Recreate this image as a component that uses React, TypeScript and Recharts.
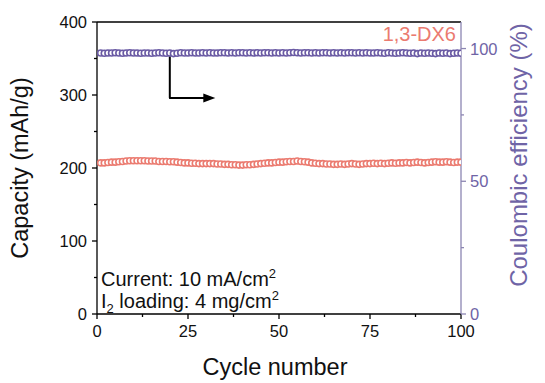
import React from 'react';
import { ComposedChart, Line, XAxis, YAxis, ReferenceLine } from 'recharts';

const cycles: number[] = Array.from({ length: 100 }, (_, i) => i + 1);

const capacity: number[] = [
  207, 207, 207.5, 208, 208, 208.5, 209, 209.5, 210, 210,
  210, 210, 210, 209.5, 209.5, 209.5, 209, 209, 209, 208.5,
  208.5, 208, 207.5, 207, 207, 206.5, 206.5, 206, 206, 206,
  206, 206, 205.5, 205.5, 205, 205, 204.5, 204.5, 204, 204,
  204.5, 204.5, 205, 205.5, 206, 206.5, 207, 207, 207.5, 208,
  208, 208.5, 209, 209, 209.5, 209, 208.5, 208, 207, 206.5,
  206, 206, 205.5, 205.5, 205, 205, 205.5, 205, 205.5, 206,
  205.5, 205, 205.5, 206, 206, 206.5, 206, 206.5, 206, 206.5,
  207, 206.5, 207, 207, 207.5, 207, 207.5, 208, 207.5, 207,
  207.5, 208, 208.5, 208, 208, 208.5, 208, 207.5, 208, 208,
];

const efficiency: number[] = [
  98.3, 98.2, 98.3, 98.3, 98.4, 98.3, 98.2, 98.3, 98.4, 98.3,
  98.3, 98.2, 98.3, 98.3, 98.2, 98.3, 98.4, 98.3, 98.2, 98.3,
  98.1, 98.2, 98.4, 98.3, 98.3, 98.4, 98.3, 98.3, 98.4, 98.3,
  98.4, 98.3, 98.3, 98.4, 98.4, 98.3, 98.4, 98.3, 98.4, 98.4,
  98.3, 98.4, 98.3, 98.4, 98.3, 98.4, 98.4, 98.3, 98.4, 98.3,
  98.4, 98.3, 98.4, 98.5, 98.4, 98.3, 98.4, 98.4, 98.3, 98.4,
  98.3, 98.4, 98.4, 98.3, 98.4, 98.3, 98.4, 98.3, 98.4, 98.4,
  98.3, 98.4, 98.3, 98.4, 98.3, 98.3, 98.4, 98.3, 98.2, 98.4,
  98.3, 98.2, 98.3, 98.4, 98.3, 98.2, 98.3, 98.1, 98.3, 98.2,
  98.3, 98.2, 98.1, 98.3, 98.2, 98.3, 98.1, 98.2, 98.3, 98.2,
];

const xTicks = [0, 12.5, 25, 37.5, 50, 62.5, 75, 87.5, 100];
const xLabels = [0, 25, 50, 75, 100];
const leftTicks = [0, 50, 100, 150, 200, 250, 300, 350, 400];
const leftLabels = [0, 100, 200, 300, 400];
const rightTicks = [0, 25, 50, 75, 100];
const rightLabels = [0, 50, 100];

const seriesName = '1,3-DX6';

const RED = '#EB7B70';
const PURPLE = '#6A5AA4';
const RAXIS = '#8C86B2';
const RTEXT = '#6F64A6';
const FONT = 'Arial, "Liberation Sans", Helvetica, sans-serif';

const data = cycles.map((c, i) => ({ cycle: c, cap: capacity[i], ce: efficiency[i] }));

const LeftTick = (props: any) => {
  const { x, y, payload } = props;
  const major = leftLabels.includes(payload.value);
  return (
    <g>
      <line x1={x} x2={x - (major ? 5 : 3)} y1={y} y2={y} stroke="#000" strokeWidth={1.3} />
      {major && (
        <text x={x - 10} y={y} textAnchor="end" dominantBaseline="central" fontSize={16.5} fill="#111" fontFamily={FONT}>
          {payload.value}
        </text>
      )}
    </g>
  );
};

const RightTick = (props: any) => {
  const { x, y, payload } = props;
  const major = rightLabels.includes(payload.value);
  return (
    <g>
      <line x1={x} x2={x + (major ? 5 : 3)} y1={y} y2={y} stroke={RAXIS} strokeWidth={1.3} />
      {major && (
        <text x={x + 9} y={y} textAnchor="start" dominantBaseline="central" fontSize={16.5} fill={RTEXT} fontFamily={FONT}>
          {payload.value}
        </text>
      )}
    </g>
  );
};

const BottomTick = (props: any) => {
  const { x, y, payload } = props;
  const major = xLabels.includes(payload.value);
  return (
    <g>
      <line x1={x} x2={x} y1={y} y2={y + (major ? 5 : 3)} stroke="#000" strokeWidth={1.3} />
      {major && (
        <text x={x} y={y + 23} textAnchor="middle" fontSize={16.5} fill="#111" fontFamily={FONT}>
          {payload.value}
        </text>
      )}
    </g>
  );
};

const ArrowHead = (props: any) => {
  const { x1, y1, x2, y2 } = props;
  if ([x1, y1, x2, y2].some((v) => typeof v !== 'number' || isNaN(v))) return null;
  const len = 12;
  const hw = 4.5;
  return (
    <g>
      <line x1={x1} y1={y1} x2={x2 - len + 1} y2={y2} stroke="#000" strokeWidth={2} />
      <polygon points={`${x2},${y2} ${x2 - len},${y2 - hw} ${x2 - len},${y2 + hw}`} fill="#000" />
    </g>
  );
};

export default function App() {
  return (
    <div style={{ position: 'absolute', left: 0, top: 0, width: 545, height: 383, background: '#fff', fontFamily: FONT }}>
      <ComposedChart width={545} height={383} data={data} margin={{ top: 22, right: 0, bottom: 0, left: 0 }}>
        <XAxis
          dataKey="cycle"
          type="number"
          domain={[0, 100]}
          ticks={xTicks}
          interval={0}
          height={69}
          tickSize={0}
          tickMargin={0}
          tickLine={false}
          tick={<BottomTick />}
          axisLine={{ stroke: '#000', strokeWidth: 1.3 }}
          allowDataOverflow
        />
        <YAxis
          yAxisId="left"
          orientation="left"
          domain={[0, 400]}
          ticks={leftTicks}
          interval={0}
          width={97}
          tickSize={0}
          tickMargin={0}
          tickLine={false}
          tick={<LeftTick />}
          axisLine={{ stroke: '#000', strokeWidth: 1.3 }}
          allowDataOverflow
        />
        <YAxis
          yAxisId="right"
          orientation="right"
          domain={[0, 110]}
          ticks={rightTicks}
          interval={0}
          width={84}
          tickSize={0}
          tickMargin={0}
          tickLine={false}
          tick={<RightTick />}
          axisLine={{ stroke: RAXIS, strokeWidth: 1.3 }}
          allowDataOverflow
        />
        <ReferenceLine yAxisId="left" y={400} stroke="#000" strokeWidth={1.3} ifOverflow="visible" />
        <Line
          yAxisId="left"
          dataKey="cap"
          name={seriesName}
          stroke="none"
          isAnimationActive={false}
          dot={{ r: 3, stroke: RED, strokeWidth: 1.6, fill: '#fff' }}
          activeDot={false}
        />
        <Line
          yAxisId="right"
          dataKey="ce"
          stroke="none"
          isAnimationActive={false}
          dot={{ r: 3, stroke: PURPLE, strokeWidth: 1.6, fill: '#fff' }}
          activeDot={false}
        />
        <ReferenceLine
          yAxisId="left"
          segment={[{ x: 20, y: 353 }, { x: 20, y: 296 }]}
          stroke="#000"
          strokeWidth={2}
          ifOverflow="visible"
        />
        <ReferenceLine
          yAxisId="left"
          segment={[{ x: 19.8, y: 296 }, { x: 32.5, y: 296 }]}
          stroke="#000"
          strokeWidth={2}
          ifOverflow="visible"
          shape={<ArrowHead />}
        />
        <text x={456} y={41} textAnchor="end" fontSize={20} fill={RED} fontFamily={FONT}>
          {seriesName}
        </text>
        <text x={101} y={286} fontSize={20} fill="#111" fontFamily={FONT}>
          Current: 10 mA/cm
          <tspan fontSize={13} dy={-8}>2</tspan>
        </text>
        <text x={101} y={308} fontSize={20} fill="#111" fontFamily={FONT}>
          I
          <tspan fontSize={13} dy={5}>2</tspan>
          <tspan dy={-5}> loading: 4 mg/cm</tspan>
          <tspan fontSize={13} dy={-8}>2</tspan>
        </text>
        <text
          x={20}
          y={168}
          transform="rotate(-90 20 168)"
          textAnchor="middle"
          dominantBaseline="central"
          fontSize={23.5}
          fill="#111"
          fontFamily={FONT}
        >
          Capacity (mAh/g)
        </text>
        <text
          x={518}
          y={155}
          transform="rotate(-90 518 155)"
          textAnchor="middle"
          dominantBaseline="central"
          fontSize={24}
          fill={RTEXT}
          fontFamily={FONT}
        >
          Coulombic efficiency (%)
        </text>
        <text x={275} y={375} textAnchor="middle" fontSize={23.5} fill="#111" fontFamily={FONT}>
          Cycle number
        </text>
      </ComposedChart>
    </div>
  );
}
